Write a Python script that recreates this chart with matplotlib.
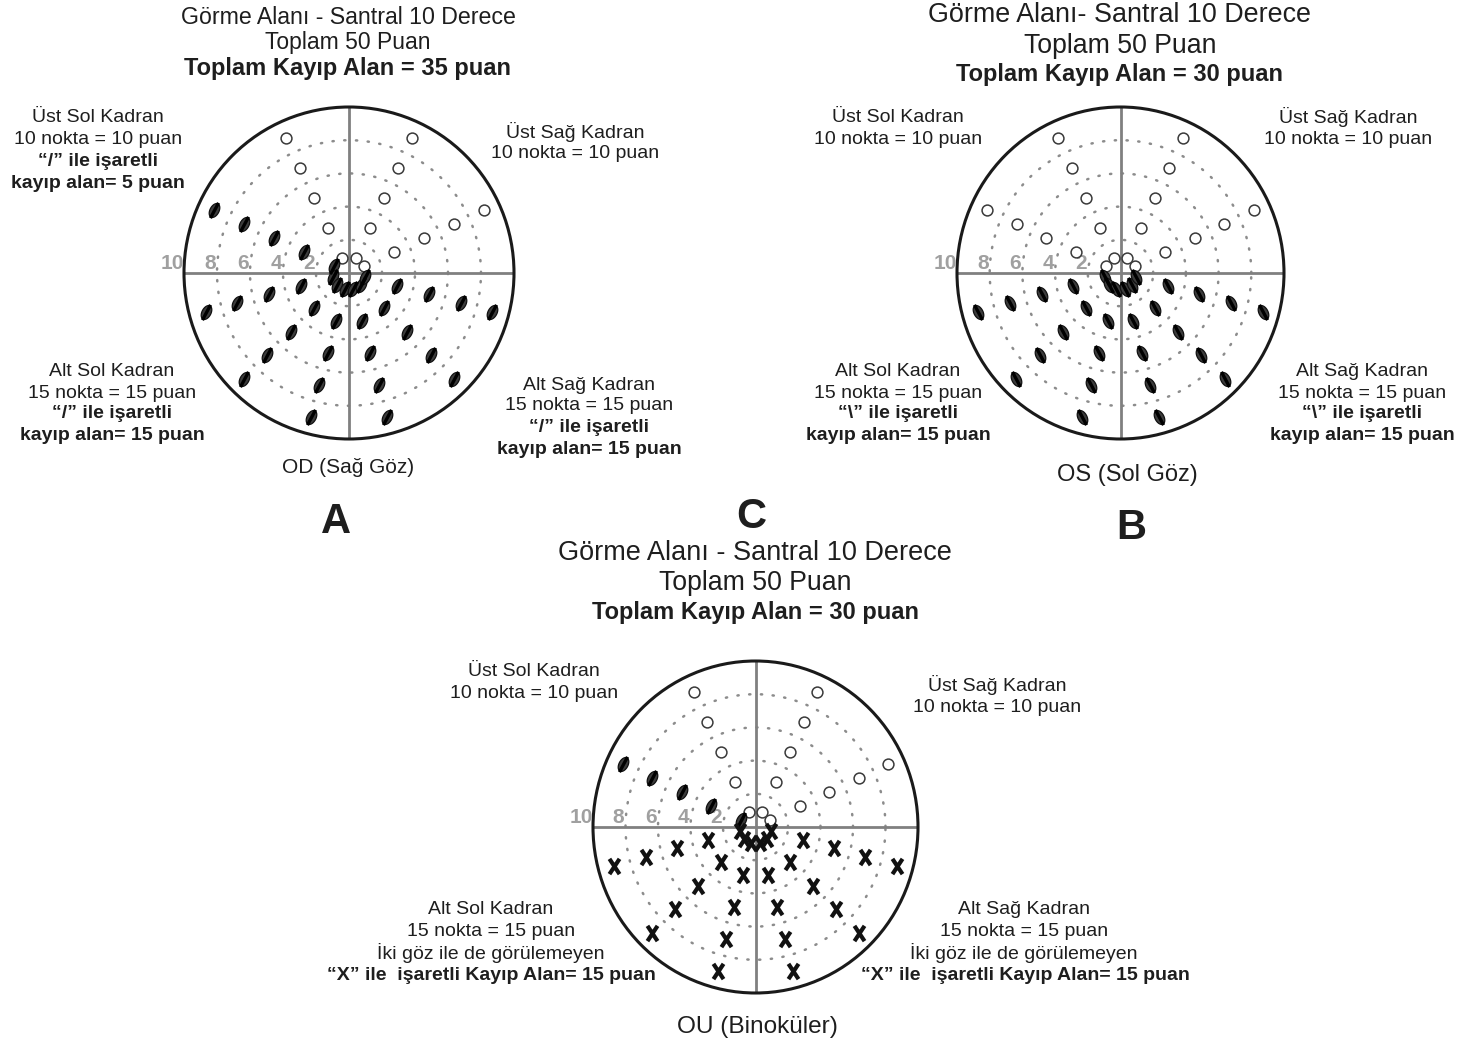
import numpy as np
import matplotlib.pyplot as plt
import matplotlib.font_manager as fm
from matplotlib.path import Path
from matplotlib.patches import Circle

# test noktalari: 10 isin, her isinda 5 nokta (derece)
ray_angles = [25, 65, 115, 155, 195, 225, 255, 285, 315, 345]
ray_radii = [1, 3, 5, 7, 9]
ring_values = [2, 4, 6, 8]
ring_labels = [10, 8, 6, 4, 2]

# o = gorulen, / ve \ = kayip, x = iki gozle de gorulemeyen
od_status = ['o', 'o', 'o', '/', '/', '/', '/', '/', '/', '/']
os_status = ['o', 'o', 'o', 'o', '\\', '\\', '\\', '\\', '\\', '\\']
ou_status = ['o', 'o', 'o', '/', 'x', 'x', 'x', 'x', 'x', 'x']

W, H = 1459, 1047
fig = plt.figure(figsize=(W / 100, H / 100), dpi=100)
fig.patch.set_facecolor('white')

names = {f.name for f in fm.fontManager.ttflist}
HAS_NARROW = 'Liberation Sans Narrow' in names
TXT = '#1e1e1e'


def txt(x, y, s, size, bold=False, narrow=True, color=TXT):
    if narrow and HAS_NARROW:
        fam, fs = ['Liberation Sans Narrow', 'DejaVu Sans'], size / 0.82
    else:
        fam, fs = ['Liberation Sans', 'DejaVu Sans'], size
    fig.text(x / W, 1 - y / H, s, ha='center', va='center', fontsize=fs,
             family=fam, weight='bold' if bold else 'normal', color=color)


def ellipse_marker(angle):
    t = np.linspace(0, 2 * np.pi, 41)
    a = np.deg2rad(angle - 90)
    ex, ey = 0.3 * np.cos(t), 0.5 * np.sin(t)
    vx = ex * np.cos(a) - ey * np.sin(a)
    vy = ex * np.sin(a) + ey * np.cos(a)
    return Path(np.column_stack([vx, vy]), closed=True)


def line_marker(angle):
    a = np.deg2rad(angle)
    c, s = 0.5 * np.cos(a), 0.5 * np.sin(a)
    return Path([(-c, -s), (c, s)], [Path.MOVETO, Path.LINETO])


x_marker = Path([(-0.33, -0.5), (0.33, 0.5), (-0.33, 0.5), (0.33, -0.5)],
                [Path.MOVETO, Path.LINETO, Path.MOVETO, Path.LINETO])


def field(box, status):
    x0, x1, y0, y1 = box
    ax = fig.add_axes([x0 / W, 1 - y1 / H, (x1 - x0) / W, (y1 - y0) / H])
    ax.set_xlim(-10, 10)
    ax.set_ylim(-10, 10)
    ax.axis('off')

    t = np.linspace(0, 2 * np.pi, 400)
    for r in ring_values:
        ax.plot(r * np.cos(t), r * np.sin(t), color='#8c8c8c', lw=1.8,
                ls=(0, (0.5, 4.2)), dash_capstyle='round', zorder=1)
    ax.plot([-10, 10], [0, 0], color='#808080', lw=2, zorder=2)
    ax.plot([0, 0], [-10, 10], color='#808080', lw=2, zorder=2)
    ax.add_patch(Circle((0, 0), 10, fill=False, lw=2.2, ec='#1a1a1a',
                        clip_on=False, zorder=3))
    for v in ring_labels:
        xo = -10.7 if v == 10 else -(v + 0.42)
        ax.text(xo, 0.6, str(v), ha='center', va='center', color='#a0a0a0',
                fontsize=15, weight='bold', family='Liberation Sans')

    rr = np.array(ray_radii, dtype=float)
    for ang, st in zip(ray_angles, status):
        a = np.deg2rad(ang)
        xs, ys = rr * np.cos(a), rr * np.sin(a)
        if st == 'o':
            ax.plot(xs, ys, ls='none', marker='o', ms=7.8, mfc='white',
                    mec='#3a3a3a', mew=1.1, zorder=4, clip_on=False)
        elif st in ('/', '\\'):
            d = 62 if st == '/' else 118
            ax.plot(xs, ys, ls='none', marker=ellipse_marker(d), ms=10,
                    mfc='#3c3c3c', mec='#111111', mew=0.9, zorder=4, clip_on=False)
            ax.plot(xs, ys, ls='none', marker=line_marker(d), ms=11,
                    mec='#000000', mew=2.4, zorder=5, clip_on=False)
        else:
            ax.plot(xs, ys, ls='none', marker=x_marker, ms=11, mfc='none',
                    mec='#111111', mew=3.0, zorder=5, clip_on=False)
    return ax


field((184, 514, 107, 439), od_status)
field((957, 1284, 107, 439), os_status)
field((593, 918, 661, 993), ou_status)

# A - OD
txt(348, 17, 'Görme Alanı - Santral 10 Derece', 16.7)
txt(348, 43, 'Toplam 50 Puan', 16.5)
txt(348, 69, 'Toplam Kayıp Alan = 35 puan', 17, bold=True)
txt(98, 118, 'Üst Sol Kadran', 14)
txt(98, 140, '10 nokta = 10 puan', 14)
txt(98, 161, '“/” ile işaretli', 14, bold=True)
txt(98, 183, 'kayıp alan= 5 puan', 14, bold=True)
txt(575, 132, 'Üst Sağ Kadran', 14)
txt(575, 153, '10 nokta = 10 puan', 14)
txt(112, 371, 'Alt Sol Kadran', 14)
txt(112, 393, '15 nokta = 15 puan', 14)
txt(112, 414, '“/” ile işaretli', 14, bold=True)
txt(112, 436, 'kayıp alan= 15 puan', 14, bold=True)
txt(589, 385, 'Alt Sağ Kadran', 14)
txt(589, 406, '15 nokta = 15 puan', 14)
txt(589, 428, '“/” ile işaretli', 14, bold=True)
txt(589, 450, 'kayıp alan= 15 puan', 14, bold=True)
txt(348, 467, 'OD (Sağ Göz)', 15)
txt(336, 522, 'A', 30, bold=True, narrow=False)

# B - OS
txt(1120, 15, 'Görme Alanı- Santral 10 Derece', 19.4, narrow=False)
txt(1120, 46, 'Toplam 50 Puan', 19.2, narrow=False)
txt(1120, 74, 'Toplam Kayıp Alan = 30 puan', 17, bold=True)
txt(898, 117, 'Üst Sol Kadran', 14)
txt(898, 139, '10 nokta = 10 puan', 14)
txt(1348, 117, 'Üst Sağ Kadran', 14)
txt(1348, 139, '10 nokta = 10 puan', 14)
txt(898, 371, 'Alt Sol Kadran', 14)
txt(898, 393, '15 nokta = 15 puan', 14)
txt(898, 414, '“\\” ile işaretli', 14, bold=True)
txt(898, 436, 'kayıp alan= 15 puan', 14, bold=True)
txt(1362, 371, 'Alt Sağ Kadran', 14)
txt(1362, 393, '15 nokta = 15 puan', 14)
txt(1362, 414, '“\\” ile işaretli', 14, bold=True)
txt(1362, 436, 'kayıp alan= 15 puan', 14, bold=True)
txt(1127, 475, 'OS (Sol Göz)', 17)
txt(1131, 528, 'B', 30, bold=True, narrow=False)

# C - OU
txt(751, 517, 'C', 30, bold=True, narrow=False)
txt(755, 553, 'Görme Alanı - Santral 10 Derece', 19.5, narrow=False)
txt(755, 583, 'Toplam 50 Puan', 19.2, narrow=False)
txt(755, 613, 'Toplam Kayıp Alan = 30 puan', 17, bold=True)
txt(534, 671, 'Üst Sol Kadran', 14)
txt(534, 693, '10 nokta = 10 puan', 14)
txt(997, 685, 'Üst Sağ Kadran', 14)
txt(997, 707, '10 nokta = 10 puan', 14)
txt(491, 910, 'Alt Sol Kadran', 14)
txt(491, 932, '15 nokta = 15 puan', 14)
txt(491, 953, 'İki göz ile de görülemeyen', 14)
txt(491, 975, '“X” ile  işaretli Kayıp Alan= 15 puan', 14, bold=True)
txt(1024, 910, 'Alt Sağ Kadran', 14)
txt(1024, 932, '15 nokta = 15 puan', 14)
txt(1024, 953, 'İki göz ile de görülemeyen', 14)
txt(1025, 975, '“X” ile  işaretli Kayıp Alan= 15 puan', 14, bold=True)
txt(757, 1027, 'OU (Binoküler)', 17.6)

fig.savefig('out.png', dpi=100, facecolor='white')
